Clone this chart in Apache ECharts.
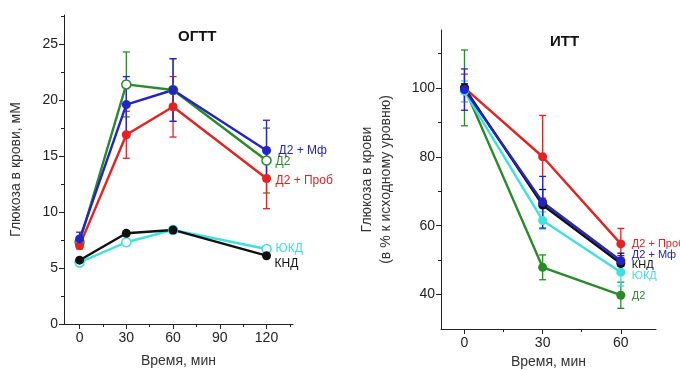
<!DOCTYPE html>
<html><head><meta charset="utf-8">
<script src="https://cdn.jsdelivr.net/npm/echarts@6/dist/echarts.min.js"></script>
<style>html,body{margin:0;padding:0;background:#fff}#c{width:680px;height:370px}</style>
</head><body><div id="c"></div>
<script>
// ---- OGTT data ----
const ogttTime = [0, 30, 60, 120];
const ogttTicks = [0, 30, 60, 90, 120];
const ogttMinorTicks = [15, 45, 75, 105, 135];
const ogttYTicks = [0, 5, 10, 15, 20, 25];
const ogttYMinor = [2.5, 7.5, 12.5, 17.5, 22.5, 27.5];
const ogttD2Mf = [7.6, 19.6, 20.9, 15.5];
const ogttD2MfErr = [0.6, 2.5, 2.8, 2.7];
const ogttD2 = [7.3, 21.4, 20.9, 14.6];
const ogttD2Err = [0.5, 2.9, 2.8, 2.9];
const ogttD2Prob = [7.0, 16.9, 19.4, 13.0];
const ogttD2ProbErr = [0.3, 2.1, 2.7, 2.7];
const ogttUKD = [5.5, 7.3, 8.4, 6.7];
const ogttUKDErr = [0.2, 0.3, 0.2, 0.2];
const ogttKND = [5.7, 8.1, 8.4, 6.1];
const ogttKNDErr = [0.2, 0.2, 0.2, 0.2];

// ---- ITT data ----
const ittTime = [0, 30, 60];
const ittTicks = [0, 30, 60];
const ittMinorTicks = [15, 45];
const ittYTicks = [40, 60, 80, 100];
const ittYMinor = [50, 70, 90, 110];
const ittD2Prob = [100, 80, 54.7];
const ittD2ProbErr = [4, 12, 4.5];
const ittD2Mf = [99.5, 66.8, 49.8];
const ittD2MfErr = [6, 7.5, 1.5];
const ittKND = [100, 66, 49];
const ittKNDErr = [1.2, 4.5, 3];
const ittUKD = [99, 61.5, 46.5];
const ittUKDErr = [3, 2.5, 4];
const ittD2 = [100, 47.9, 39.8];
const ittD2Err = [11, 3.6, 3.8];

const C = {blue:'#2323c8', green:'#2a8a2a', red:'#e52222', cyan:'#3ee0e0', black:'#111111'};
const FONT = 'Liberation Sans, Arial, sans-serif';

const chart = echarts.init(document.getElementById('c'), null, {renderer:'canvas'});

function mainX(grid, min, max, ticks, name, nameGap){
  return {type:'value', gridIndex:grid, position:'bottom', min, max, name, nameLocation:'middle', nameGap,
    nameTextStyle:{fontFamily:FONT, fontSize:14, color:'#333'},
    axisLine:{show:true, onZero:false, lineStyle:{color:'#222', width:1}},
    axisTick:{show:true, length:5, customValues:ticks, lineStyle:{color:'#222'}},
    axisLabel:{customValues:ticks, fontFamily:FONT, fontSize:14, color:'#222', margin:7},
    splitLine:{show:false}};
}
function minorX(grid, min, max, ticks){
  return {type:'value', gridIndex:grid, position:'bottom', min, max,
    axisLine:{show:false, onZero:false}, axisTick:{show:true, length:3, customValues:ticks, lineStyle:{color:'#222'}},
    axisLabel:{show:false}, splitLine:{show:false}};
}
function mainY(grid, min, max, ticks, name, nameGap){
  return {type:'value', gridIndex:grid, position:'left', min, max, name, nameLocation:'middle', nameGap,
    nameTextStyle:{fontFamily:FONT, fontSize:14, color:'#333', lineHeight:19},
    axisLine:{show:true, onZero:false, lineStyle:{color:'#222', width:1}},
    axisTick:{show:true, length:5, customValues:ticks, lineStyle:{color:'#222'}},
    axisLabel:{customValues:ticks, fontFamily:FONT, fontSize:14, color:'#222', margin:6},
    splitLine:{show:false}};
}
function minorY(grid, min, max, ticks){
  return {type:'value', gridIndex:grid, position:'left', min, max,
    axisLine:{show:false, onZero:false}, axisTick:{show:true, length:3, customValues:ticks, lineStyle:{color:'#222'}},
    axisLabel:{show:false}, splitLine:{show:false}};
}

function errSeries(xi, yi, xs, ys, es, color){
  return {type:'custom', xAxisIndex:xi, yAxisIndex:yi, z:1, silent:true,
    data: xs.map((x,i)=>[x, ys[i]-es[i], ys[i]+es[i]]),
    encode:{x:0, y:[1,2]},
    renderItem:(params, api)=>{
      const lo = api.coord([api.value(0), api.value(1)]);
      const hi = api.coord([api.value(0), api.value(2)]);
      const w = 3.5;
      const st = {stroke:color, lineWidth:1.3, fill:null};
      return {type:'group', children:[
        {type:'line', shape:{x1:lo[0], y1:lo[1], x2:hi[0], y2:hi[1]}, style:st},
        {type:'line', shape:{x1:hi[0]-w, y1:hi[1], x2:hi[0]+w, y2:hi[1]}, style:st},
        {type:'line', shape:{x1:lo[0]-w, y1:lo[1], x2:lo[0]+w, y2:lo[1]}, style:st}
      ]};
    }};
}
function lineSeries(xi, yi, name, xs, ys, color, open, labelOffset, fs){
  return {type:'line', name, xAxisIndex:xi, yAxisIndex:yi, z:3,
    data: xs.map((x,i)=>[x, ys[i]]),
    symbol:'circle', symbolSize:9,
    lineStyle:{color, width:2.4},
    itemStyle:{color: open ? '#fff' : color, borderColor:color, borderWidth: open ? 1.5 : 0},
    endLabel:{show:true, formatter:name, color, fontFamily:FONT, fontSize:fs, distance:9, offset:labelOffset},
    animation:false};
}

const series = [
  // OGTT error bars
  errSeries(0,0, ogttTime, ogttD2, ogttD2Err, C.green),
  errSeries(0,0, ogttTime, ogttD2Prob, ogttD2ProbErr, C.red),
  errSeries(0,0, ogttTime, ogttD2Mf, ogttD2MfErr, C.blue),
  errSeries(0,0, ogttTime, ogttUKD, ogttUKDErr, C.cyan),
  errSeries(0,0, ogttTime, ogttKND, ogttKNDErr, C.black),
  // OGTT lines
  lineSeries(0,0,'Д2', ogttTime, ogttD2, C.green, true, [0,1], 12),
  lineSeries(0,0,'Д2 + Проб', ogttTime, ogttD2Prob, C.red, false, [0,2], 12),
  lineSeries(0,0,'Д2 + Мф', ogttTime, ogttD2Mf, C.blue, false, [3,0], 12),
  lineSeries(0,0,'ЮКД', ogttTime, ogttUKD, C.cyan, true, [0,0], 12),
  lineSeries(0,0,'КНД', ogttTime, ogttKND, C.black, false, [-1,8], 12),
  // ITT error bars
  errSeries(2,2, ittTime, ittD2, ittD2Err, C.green),
  errSeries(2,2, ittTime, ittD2Prob, ittD2ProbErr, C.red),
  errSeries(2,2, ittTime, ittUKD, ittUKDErr, C.cyan),
  errSeries(2,2, ittTime, ittKND, ittKNDErr, C.black),
  errSeries(2,2, ittTime, ittD2Mf, ittD2MfErr, C.blue),
  // ITT lines
  lineSeries(2,2,'Д2', ittTime, ittD2, C.green, false, [2,1], 11),
  lineSeries(2,2,'Д2 + Проб', ittTime, ittD2Prob, C.red, false, [2,0], 11),
  lineSeries(2,2,'ЮКД', ittTime, ittUKD, C.cyan, false, [2,4], 11),
  lineSeries(2,2,'КНД', ittTime, ittKND, C.black, false, [2,1], 11),
  lineSeries(2,2,'Д2 + Мф', ittTime, ittD2Mf, C.blue, false, [2,-6], 11)
];

chart.setOption({
  animation:false,
  backgroundColor:'#fff',
  title:[
    {text:'ОГТТ', left:173, top:24, textStyle:{fontFamily:FONT, fontSize:15, fontWeight:'bold', color:'#111'}},
    {text:'ИТТ', left:545, top:29, textStyle:{fontFamily:FONT, fontSize:15, fontWeight:'bold', color:'#111'}}
  ],
  grid:[
    {left:64, top:15, width:229, height:309, outerBoundsMode:'none', containLabel:false},
    {left:441, top:30, width:215, height:299, outerBoundsMode:'none', containLabel:false}
  ],
  xAxis:[
    mainX(0, -10, 137, ogttTicks, 'Время, мин', 30),
    minorX(0, -10, 137, ogttMinorTicks),
    mainX(1, -9, 73.5, ittTicks, 'Время, мин', 26),
    minorX(1, -9, 73.5, ittMinorTicks)
  ],
  yAxis:[
    mainY(0, 0, 27.6, ogttYTicks, 'Глюкоза в крови, мМ', 38),
    minorY(0, 0, 27.6, ogttYMinor),
    mainY(1, 30, 116.8, ittYTicks, 'Глюкоза в крови\n(в % к исходному уровню)', 45),
    minorY(1, 30, 116.8, ittYMinor)
  ],
  series
});
</script></body></html>
